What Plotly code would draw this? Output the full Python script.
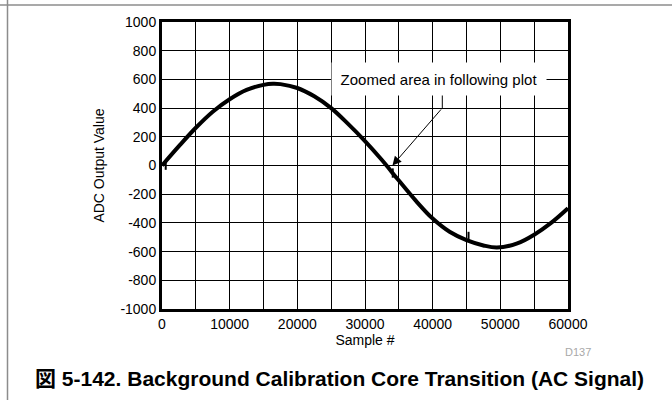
import plotly.graph_objects as go

# ADC output of an AC input across the background calibration core transition
sample_idx = [0, 2500, 5000, 7500, 10000, 12500, 15000, 16400, 17500, 20000,
              22500, 25000, 27500, 30000, 32500, 35000, 37500, 40000, 42500,
              45000, 47500, 49500, 52500, 55000, 57500, 60000]
adc_value = [0, 135, 263, 375, 462, 527, 562, 570, 567, 540,
             482, 400, 290, 170, 38, -105, -245, -370, -462,
             -520, -557, -572, -543, -482, -400, -298]

# Short transients where the calibration core switches
glitch_idx = [550, 550, None, 34100, 34100, None, 45300, 45300]
glitch_value = [30, -30, None, -20, -85, None, -528, -462]

x_ticks = [0, 10000, 20000, 30000, 40000, 50000, 60000]
x_tick_text = ["0", "10000", "20000", "30000", "40000", "50000", "60000"]
y_ticks = [1000, 800, 600, 400, 200, 0, -200, -400, -600, -800, -1000]
y_tick_text = ["1000", "800", "600", "400", "200", "0", "-200", "-400",
               "-600", "-800", "-1000"]

# Marker for the region shown in the zoomed plot
zoom_x, zoom_y = 34050, 0
note_x, note_y = 40983, 600
leader_x, leader_top, leader_bottom = 41425, 498, 401

FONT = "Liberation Sans, Arial, Helvetica, Noto Sans CJK JP, sans-serif"
M_L, M_R, M_T, M_B = 162, 104, 22, 91
W, H = 672, 400

fig = go.Figure()
fig.add_trace(go.Scatter(
    x=sample_idx, y=adc_value, mode="lines",
    line=dict(color="black", width=4, shape="spline", smoothing=1),
    showlegend=False, hoverinfo="skip"))
fig.add_trace(go.Scatter(
    x=glitch_idx, y=glitch_value, mode="lines",
    line=dict(color="black", width=2), showlegend=False, hoverinfo="skip"))

axis_common = dict(
    showgrid=True, gridcolor="black", gridwidth=1,
    showline=True, linecolor="black", linewidth=3, mirror=True,
    zeroline=False, ticks="", tickfont=dict(family=FONT, size=14, color="black"),
    title_font=dict(family=FONT, size=14, color="black"),
)

fig.update_xaxes(
    range=[0, 60000], tickvals=x_ticks, ticktext=x_tick_text,
    minor=dict(dtick=5000, showgrid=True, gridcolor="black", gridwidth=1),
    title_text="Sample #", title_standoff=2, **axis_common)
fig.update_yaxes(
    range=[-1000, 1000], tickvals=y_ticks, ticktext=y_tick_text,
    title_text="ADC Output Value", title_standoff=13, **axis_common)

# Leader line and arrow pointing at the zoomed region
fig.add_shape(type="line", xref="x", yref="y",
              x0=leader_x, x1=leader_x, y0=leader_top, y1=leader_bottom,
              line=dict(color="black", width=1))
fig.add_annotation(x=zoom_x, y=zoom_y, xref="x", yref="y",
                   ax=leader_x, ay=leader_bottom, axref="x", ayref="y",
                   text="", showarrow=True, arrowhead=2, arrowsize=1.8,
                   arrowwidth=1, arrowcolor="black")
fig.add_annotation(x=note_x, y=note_y, xref="x", yref="y",
                   text="Zoomed area in following plot", showarrow=False,
                   bgcolor="white", width=214, height=32, borderpad=0,
                   font=dict(family=FONT, size=15, color="black"))

# Page items placed in pixel units, converted to paper coordinates
plot_w, plot_h = W - M_L - M_R, H - M_T - M_B
def px(xp):
    return (xp - M_L) / plot_w
def py(yp):
    return (H - M_B - yp) / plot_h

fig.add_shape(type="line", xref="paper", yref="paper", x0=px(0), x1=px(W),
              y0=py(5), y1=py(5), line=dict(color="#8c8c8c", width=1.5))
fig.add_shape(type="line", xref="paper", yref="paper", x0=px(7.5), x1=px(7.5),
              y0=py(0), y1=py(H), line=dict(color="#8c8c8c", width=1.5))
fig.add_annotation(x=px(578), y=py(352), xref="paper", yref="paper", text="D137",
                   xanchor="center", yanchor="middle", showarrow=False,
                   font=dict(family=FONT, size=11, color="#a8a8a8"))
fig.add_annotation(x=px(33), y=py(378), xref="paper", yref="paper",
                   xanchor="left", yanchor="middle",
                   text="<b>図 5-142. Background Calibration Core Transition (AC Signal)</b>",
                   showarrow=False, font=dict(family=FONT, size=21, color="black"))

fig.update_layout(
    width=W, height=H,
    margin=dict(l=M_L, r=M_R, t=M_T, b=M_B),
    paper_bgcolor="white", plot_bgcolor="white",
    font=dict(family=FONT, color="black"),
)

fig.write_html("out.html")
